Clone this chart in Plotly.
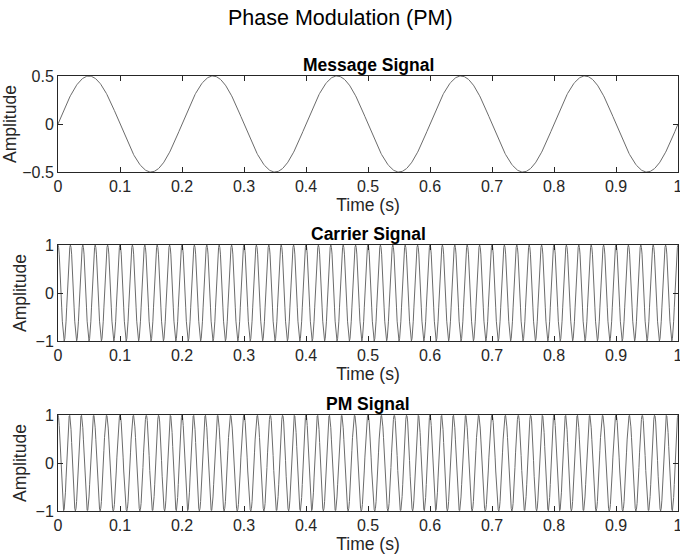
import numpy as np
import plotly.graph_objects as go

# ---- signal parameters ----
fs = 1000                 # samples per second
t_start, t_stop = 0.0, 1.0
msg_amplitude = 0.5       # message amplitude
msg_freq = 5              # Hz (peaks at 0.05, 0.25, ...)
carrier_amplitude = 1.0
carrier_freq = 50         # Hz (5 cycles per 0.1 s)
kp = np.pi / 2            # phase sensitivity

subplot_titles = ["Message Signal", "Carrier Signal", "PM Signal"]
main_title = "Phase Modulation (PM)"
x_title = "Time (s)"
y_title = "Amplitude"
x_ticks = [0, 0.1, 0.2, 0.3, 0.4, 0.5, 0.6, 0.7, 0.8, 0.9, 1]
x_ticklabels = ["0", "0.1", "0.2", "0.3", "0.4", "0.5", "0.6", "0.7", "0.8", "0.9", "1"]
y_ticks_msg = [-0.5, 0, 0.5]
y_ticks_sig = [-1, 0, 1]

t = np.arange(int(round((t_stop - t_start) * fs)) + 1) / fs + t_start
message = msg_amplitude * np.sin(2 * np.pi * msg_freq * t)
carrier = carrier_amplitude * np.cos(2 * np.pi * carrier_freq * t)
pm_signal = carrier_amplitude * np.cos(2 * np.pi * carrier_freq * t + kp * message)

W, H = 680, 560
ML, MR, MT, MB = 58, 2, 0, 0
PH = H - MT - MB

def ydom(top, bottom):
    return [1 - bottom / PH, 1 - top / PH]

domains = [ydom(76, 172), ydom(245, 341), ydom(415, 511)]
series = [message, carrier, pm_signal]
yticks = [y_ticks_msg, y_ticks_sig, y_ticks_sig]
yranges = [[-0.5, 0.5], [-1, 1], [-1, 1]]

AX = "#262626"
FONT = "Liberation Sans, Arial, Helvetica, sans-serif"
LINE = "#6b6b6b"

fig = go.Figure()
layout = dict(
    width=W, height=H,
    margin=dict(l=ML, r=MR, t=MT, b=MB),
    paper_bgcolor="white", plot_bgcolor="white",
    showlegend=False,
    font=dict(family=FONT, color=AX, size=16),
)
annotations = []
for i, (y, dom, yt, yr, st) in enumerate(zip(series, domains, yticks, yranges, subplot_titles)):
    n = "" if i == 0 else str(i + 1)
    fig.add_trace(go.Scatter(x=t, y=y, mode="lines",
                             line=dict(color=LINE, width=1),
                             xaxis="x" + n, yaxis="y" + n, hoverinfo="skip"))
    layout["xaxis" + n] = dict(
        domain=[0, 1], anchor="y" + n, range=[0, 1],
        tickvals=x_ticks, ticktext=x_ticklabels,
        ticks="inside", ticklen=5, tickwidth=1, tickcolor=AX,
        showline=True, linecolor=AX, linewidth=1, mirror="ticks",
        showgrid=False, zeroline=False, automargin=False,
        ticklabeloverflow="allow",
        tickfont=dict(size=16, color=AX, family=FONT),
        title=dict(text=x_title, standoff=2, font=dict(size=17.5, color=AX, family=FONT)),
    )
    layout["yaxis" + n] = dict(
        domain=dom, anchor="x" + n, range=yr,
        tickvals=yt, ticks="inside", ticklen=5, tickwidth=1, tickcolor=AX,
        showline=True, linecolor=AX, linewidth=1, mirror="ticks",
        showgrid=False, zeroline=False, automargin=False,
        tickfont=dict(size=16, color=AX, family=FONT),
        title=dict(text=y_title, standoff=4, font=dict(size=17.5, color=AX, family=FONT)),
    )
    annotations.append(dict(
        text="<b>" + st + "</b>", xref="paper", yref="paper",
        x=0.5, y=dom[1], xanchor="center", yanchor="bottom", yshift=-1,
        showarrow=False, font=dict(size=17.5, color="black", family=FONT)))

annotations.append(dict(
    text=main_title, xref="paper", yref="paper",
    x=(340 - ML) / (W - ML - MR), y=1 - 18 / PH, xanchor="center", yanchor="middle",
    showarrow=False, font=dict(size=21.5, color="black", family=FONT)))
layout["annotations"] = annotations
fig.update_layout(**layout)
fig.write_html("out.html")
